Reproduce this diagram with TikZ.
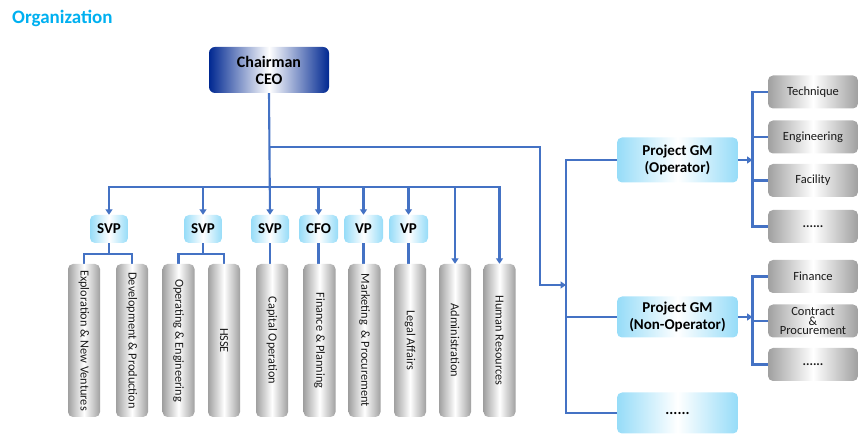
\documentclass[tikz,border=0pt]{standalone}
\usepackage{fontspec}
\setmainfont{Carlito}
\usetikzlibrary{arrows.meta,calc,backgrounds}
\definecolor{linec}{RGB}{68,114,196}
\definecolor{titlec}{RGB}{0,176,240}
\definecolor{ceoc}{RGB}{0,40,145}
\definecolor{lblue}{RGB}{150,220,248}
\definecolor{gedge}{RGB}{160,160,160}
\begin{document}
\begin{tikzpicture}[x=1pt,y=-1pt,
  conn/.style={draw=linec, line width=2.1pt, line cap=rect},
  arr/.style={conn, -{Triangle[width=7pt,length=5.5pt]}},
  ceobox/.style={rectangle, rounded corners=6pt, left color=ceoc, right color=ceoc, middle color=white, minimum width=120pt, minimum height=46pt, font=\fontsize{16}{17}\selectfont\bfseries, align=center, inner sep=0pt},
  bluebox/.style={rectangle, rounded corners=5pt, left color=lblue, right color=lblue, middle color=white, inner sep=0pt, font=\fontsize{15}{16.7}\selectfont\bfseries, align=center},
  graybox/.style={rectangle, rounded corners=5pt, left color=gedge, right color=gedge, middle color=white, inner sep=0pt, font=\fontsize{12.5}{13}\selectfont, align=center, text=black!90},
  vbox/.style={graybox, minimum width=32pt, minimum height=153pt},
  vtext/.style={rotate=-90, font=\fontsize{12.3}{13}\selectfont, inner sep=0pt, text=black!90},
  rbox/.style={graybox, minimum width=90pt, minimum height=33pt},
  dots/.style={font=\fontsize{13}{13}\selectfont\bfseries},
  sbox/.style={bluebox, minimum width=38pt, minimum height=28pt},
  gmbox/.style={bluebox, minimum width=121pt},
]
\useasboundingbox (0,0) rectangle (860,435);

\node[font=\fontsize{19}{20}\selectfont\bfseries, text=titlec, anchor=west, inner sep=0pt] (title) at (12,18) {Organization};

\node[ceobox] (ceo) at (269,70) {Chairman\\CEO};

\node[sbox] (s1) at (109,229) {SVP};
\node[sbox] (s2) at (203,229) {SVP};
\node[sbox] (s3) at (270,229) {SVP};
\node[sbox, minimum width=39pt] (cfo) at (318.5,229) {CFO};
\node[sbox, minimum width=39pt] (vp1) at (363.5,229) {VP};
\node[sbox, minimum width=39pt] (vp2) at (408.5,229) {VP};

\foreach \n/\x/\t in {b1/84/{Exploration \& New Ventures}, b2/132/{Development \& Production}, b3/178.5/{Operating \& Engineering}, b4/224/{HSSE}, b5/272/{Capital Operation}, b6/319.5/{Finance \& Planning}, b7/364.5/{Marketing \ \& Procurement}, b8/410/{Legal Affairs}, b9/455/{Administration}, b10/499.5/{Human Resources}}{
  \node[vbox] (\n) at (\x,340.5) {};
  \node[vtext] (\n-t) at (\n) {\t};
}

\node[gmbox, minimum height=45pt] (pgm1) at (677.5,160) {Project GM\\(Operator)};
\node[gmbox, minimum height=41pt] (pgm2) at (677.5,317) {Project GM\\(Non-Operator)};
\node[gmbox, minimum height=41pt] (pgm3) at (677.5,413) {......};

\node[rbox] (t1) at (813,92) {Technique};
\node[rbox] (t2) at (813,137) {Engineering};
\node[rbox] (t3) at (813,180.5) {Facility};
\node[rbox, dots] (t4) at (813,226.5) {......};
\node[rbox] (f1) at (813,276.5) {Finance};
\node[rbox, font=\fontsize{12.5}{8.5}\selectfont] (f2) at (813,321) {Contract\\\&\\Procurement};
\node[rbox, dots] (f3) at (813,364.5) {......};

\begin{scope}[on background layer]
\coordinate (bus) at (0,187);
\draw[arr] (ceo.south) -- (s3.north);
\draw[arr] (b10.north |- bus) -- (s1.north |- bus) -- (s1.north);
\draw[arr] (b10.north |- bus) -- (b10.north);
\foreach \n in {s2,cfo,vp1,vp2,b9} \draw[arr] (\n.north |- bus) -- (\n.north);

\coordinate (j1) at ($(s1.south)+(0,11)$);
\draw[conn] (s1.south) -- (j1);
\draw[conn] (b1.north) |- (j1) -| (b2.north);
\coordinate (j2) at ($(s2.south)+(0,11)$);
\draw[conn] (s2.south) -- (j2);
\draw[conn] (b3.north) |- (j2) -| (b4.north);
\foreach \a/\b in {s3/b5,cfo/b6,vp1/b7,vp2/b8} \draw[conn] (\a.south) -- (\a.south |- \b.north);

\coordinate (k1) at (270,147);
\coordinate (turn) at (540,285);
\coordinate (v) at (566,285);
\draw[arr] (k1) -| (turn) -- (v);
\draw[conn] (pgm1.west) -- (pgm1.west -| v) -- (pgm3.west -| v) -- (pgm3.west);
\draw[conn] (pgm2.west) -- (pgm2.west -| v);

\coordinate (w) at (752.5,0);
\draw[arr] (pgm1.east) -- (pgm1.east -| w);
\draw[conn] (t1.west) -- (t1.west -| w) -- (t4.west -| w) -- (t4.west);
\draw[conn] (t2.west) -- (t2.west -| w);
\draw[conn] (t3.west) -- (t3.west -| w);
\draw[arr] (pgm2.east) -- (pgm2.east -| w);
\draw[conn] (f1.west) -- (f1.west -| w) -- (f3.west -| w) -- (f3.west);
\draw[conn] (f2.west) -- (f2.west -| w);
\end{scope}
\end{tikzpicture}
\end{document}
